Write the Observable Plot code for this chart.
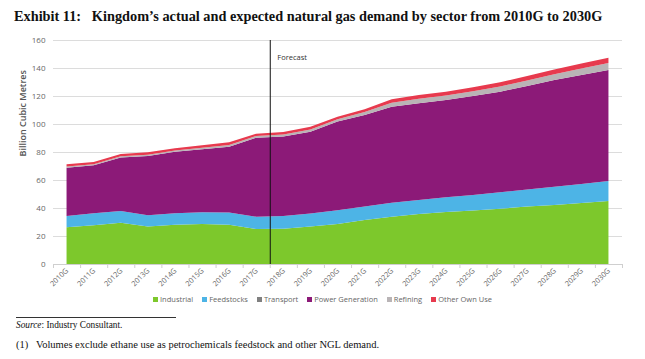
<!DOCTYPE html>
<html>
<head>
<meta charset="utf-8">
<script src="https://cdn.jsdelivr.net/npm/d3@7"></script>
<script src="https://cdn.jsdelivr.net/npm/@observablehq/plot@0.6"></script>
<style>
  html, body { margin: 0; padding: 0; background: #fff; width: 645px; height: 359px; overflow: hidden; }
  #title { position: absolute; left: 14px; top: 8px; font: bold 14.3px "Liberation Serif", "Times New Roman", serif; color: #111; white-space: pre; }
  #chart { position: absolute; left: 0; top: 30px; }
  #legend { position: absolute; left: 0; width: 645px; top: 294px; display: flex; justify-content: center; gap: 9px; font: 7.5px "Open Sans", sans-serif; color: #666; }
  #legend span.sw { display: inline-block; width: 5px; height: 5px; margin-right: 2px; vertical-align: 0px; }
  #rule { position: absolute; left: 16px; top: 317px; width: 160px; border-top: 1px solid #333; }
  #source { position: absolute; left: 16px; top: 320px; font: 9.3px "Liberation Serif", serif; color: #111; }
  #note { position: absolute; left: 16px; top: 339px; font: 10.5px "Liberation Serif", serif; color: #111; white-space: pre; }
</style>
</head>
<body>
<div id="title">Exhibit 11:   Kingdom’s actual and expected natural gas demand by sector from 2010G to 2030G</div>
<div id="chart"></div>
<div id="legend"></div>
<div id="rule"></div>
<div id="source"><i>Source</i>: Industry Consultant.</div>
<div id="note">(1)   Volumes exclude ethane use as petrochemicals feedstock and other NGL demand.</div>
<script>
const years = ["2010G","2011G","2012G","2013G","2014G","2015G","2016G","2017G","2018G","2019G","2020G","2021G","2022G","2023G","2024G","2025G","2026G","2027G","2028G","2029G","2030G"];
const seriesNames = ["Industrial","Feedstocks","Transport","Power Generation","Refining","Other Own Use"];
const seriesColors = ["#7dc82c","#4db4e6","#808080","#8c1a78","#b9b4b6","#e73a4e"];

const industrial  = [26.2, 27.6, 29.5, 26.7, 28.1, 28.6, 28.1, 25.0, 25.2, 26.7, 28.6, 31.4, 33.8, 35.7, 37.1, 38.3, 39.5, 41.0, 42.1, 43.6, 45.0];
const feedstocks  = [8.1, 8.6, 8.4, 8.1, 8.1, 8.3, 8.6, 8.8, 9.1, 9.3, 9.8, 9.6, 10.0, 10.0, 10.5, 11.0, 11.7, 12.3, 13.1, 13.5, 14.3];
const transport   = [0, 0, 0, 0, 0, 0, 0, 0, 0, 0, 0, 0, 0, 0, 0, 0, 0, 0, 0, 0, 0];
const powerGen    = [34.5, 34.3, 38.1, 42.3, 44.0, 45.0, 47.1, 56.4, 56.7, 58.5, 63.3, 65.4, 68.6, 69.1, 69.5, 70.7, 71.9, 73.8, 76.2, 77.9, 79.3];
const refining    = [0.8, 0.8, 0.9, 1.0, 0.9, 1.1, 1.2, 1.3, 1.5, 1.6, 1.7, 2.1, 2.8, 3.2, 3.3, 3.4, 3.7, 4.0, 4.2, 4.6, 5.0];
const otherOwnUse = [1.6, 1.6, 1.7, 1.7, 1.5, 1.8, 1.9, 1.6, 1.8, 1.9, 1.8, 2.0, 2.4, 2.7, 2.7, 2.8, 3.0, 3.2, 3.4, 3.7, 3.8];
const yTicks = [0, 20, 40, 60, 80, 100, 120, 140, 160];
const forecastStart = "2018G";
const forecastLabel = "Forecast";

const seriesValues = [industrial, feedstocks, transport, powerGen, refining, otherOwnUse];
const data = [];
seriesNames.forEach((name, s) => {
  years.forEach((yr, i) => data.push({i, year: yr, series: name, value: seriesValues[s][i]}));
});
const fIndex = years.indexOf(forecastStart) - 0.5;
const font = '"Open Sans", sans-serif';

const plot = Plot.plot({
  width: 645,
  height: 262,
  marginTop: 10,
  marginBottom: 28,
  marginLeft: 53,
  marginRight: 23,
  style: {fontFamily: font, background: "transparent"},
  x: {type: "linear", domain: [-0.5, years.length - 0.5], axis: null},
  y: {domain: [0, 160], axis: null},
  color: {domain: seriesNames, range: seriesColors},
  marks: [
    Plot.gridY(yTicks, {stroke: "#dcdcdc", strokeOpacity: 1, strokeWidth: 1}),
    Plot.areaY(data, {x: "i", y: "value", z: "series", fill: "series", order: seriesNames, curve: "linear"}),
    Plot.ruleY([0], {stroke: "#cfcfcf"}),
    Plot.ruleX([fIndex], {y1: 0, y2: 160, stroke: "#111", strokeWidth: 1}),
    Plot.text([forecastLabel], {x: fIndex, y: 148, dx: 7, text: d => d, textAnchor: "start", fontSize: 7.5, fill: "#333"}),
    Plot.axisY(yTicks, {tickSize: 0, tickPadding: 8, fontSize: 8, fill: "#666", label: null}),
    Plot.text(["Billion Cubic Metres"], {frameAnchor: "left", dx: -30, dy: 4, rotate: -90, text: d => d, fontSize: 9, fontWeight: 600, fill: "#555"}),
    Plot.axisX(d3.range(years.length), {tickFormat: i => years[i], tickRotate: -45, tickSize: 0, tickPadding: 5, fontSize: 7.3, fill: "#666", label: null}),
    Plot.axisX(d3.range(-0.5, years.length, 1), {tickFormat: () => "", tickSize: 4, stroke: "#cfcfcf", label: null})
  ]
});
document.getElementById("chart").appendChild(plot);

const legend = document.getElementById("legend");
seriesNames.forEach((name, s) => {
  const item = document.createElement("div");
  item.innerHTML = `<span class="sw" style="background:${seriesColors[s]}"></span>${name}`;
  legend.appendChild(item);
});
</script>
</body>
</html>
